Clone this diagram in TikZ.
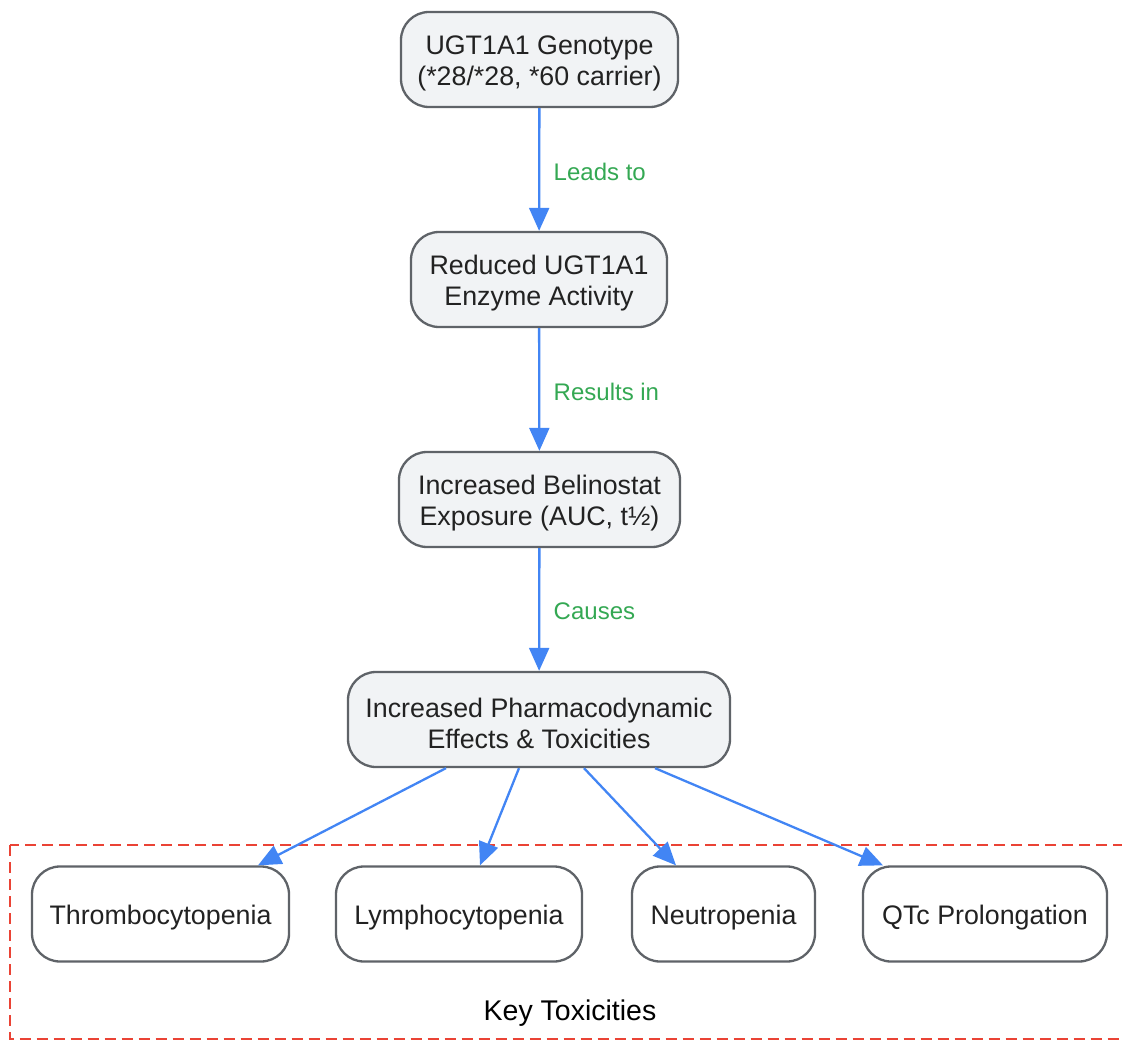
\documentclass[tikz,border=0pt]{standalone}
\usepackage{fontspec}
\setmainfont{Liberation Sans}
\usetikzlibrary{arrows.meta}
\definecolor{boxfill}{HTML}{F1F3F5}
\definecolor{boxline}{HTML}{5F6368}
\definecolor{txtcol}{HTML}{222222}
\definecolor{flowcol}{HTML}{4285F4}
\definecolor{lblcol}{HTML}{34A853}
\definecolor{grpcol}{HTML}{EA4335}
\newcommand{\lowstrut}{\rule{0pt}{27pt}}
\tikzset{
  stepnode/.style={draw=boxline,line width=2.3pt,fill=boxfill,rounded corners=28pt,
    minimum height=95pt,align=center,text=txtcol,font=\fontsize{26.8}{31}\selectfont},
  toxnode/.style={stepnode,fill=white},
  flow/.style={draw=flowcol,line width=2.3pt,-{Triangle[length=23pt,width=20pt]}},
  flowlbl/.style={text=lblcol,font=\fontsize{24}{28}\selectfont,anchor=west},
}
\begin{document}
\begin{tikzpicture}[x=1pt,y=-1pt]
  \useasboundingbox (0,0) rectangle (1122,1040);
  \clip (0,0) rectangle (1122,1040);
  %%
  \draw [grpcol,line width=2.3pt,dash pattern=on 11pt off 6pt] (10,845) rectangle (1180,1039.5);
  \node (Group) at (570,1013) [font=\fontsize{28.5}{33}\selectfont] {Key Toxicities};
  %%
  \node (Genotype) at (539.5,59.5) [stepnode,minimum width=277pt] {\lowstrut UGT1A1 Genotype\\(*28/*28, *60 carrier)};
  \node (Reduced) at (539,279.5) [stepnode,minimum width=256pt] {\lowstrut Reduced UGT1A1\\Enzyme Activity};
  \node (Exposure) at (539.5,499.5) [stepnode,minimum width=281pt] {\lowstrut Increased Belinostat\\Exposure (AUC, t½)};
  \node (Effects) at (539,719.5) [stepnode,minimum width=382pt] {\lowstrut Increased Pharmacodynamic\\Effects \& Toxicities};
  \node (Thrombo) at (160.5,914) [toxnode,minimum width=257pt] {\lowstrut Thrombocytopenia};
  \node (Lympho) at (459,914) [toxnode,minimum width=246pt] {\lowstrut Lymphocytopenia};
  \node (Neutro) at (723.5,914) [toxnode,minimum width=183pt] {\lowstrut Neutropenia};
  \node (QTc) at (985,914) [toxnode,minimum width=244pt] {\lowstrut QTc Prolongation};
  %%
  \draw [flow] (Genotype) -- (Reduced) node (LeadsTo) [flowlbl,midway,xshift=10pt,yshift=-2pt] {Leads to};
  \draw [flow] (Reduced) -- (Exposure) node (ResultsIn) [flowlbl,midway,xshift=10pt,yshift=-2pt] {Results in};
  \draw [flow] (Exposure) -- (Effects) node (Causes) [flowlbl,midway,xshift=10pt,yshift=-2pt] {Causes};
  \draw [flow] ([xshift=-93pt]Effects.south) -- ([xshift=97.5pt]Thrombo.north);
  \draw [flow] ([xshift=-20pt]Effects.south) -- ([xshift=21pt]Lympho.north);
  \draw [flow] ([xshift=45pt]Effects.south) -- ([xshift=-47.5pt]Neutro.north);
  \draw [flow] ([xshift=116pt]Effects.south) -- ([xshift=-102pt]QTc.north);
  %
\end{tikzpicture}
\end{document}
